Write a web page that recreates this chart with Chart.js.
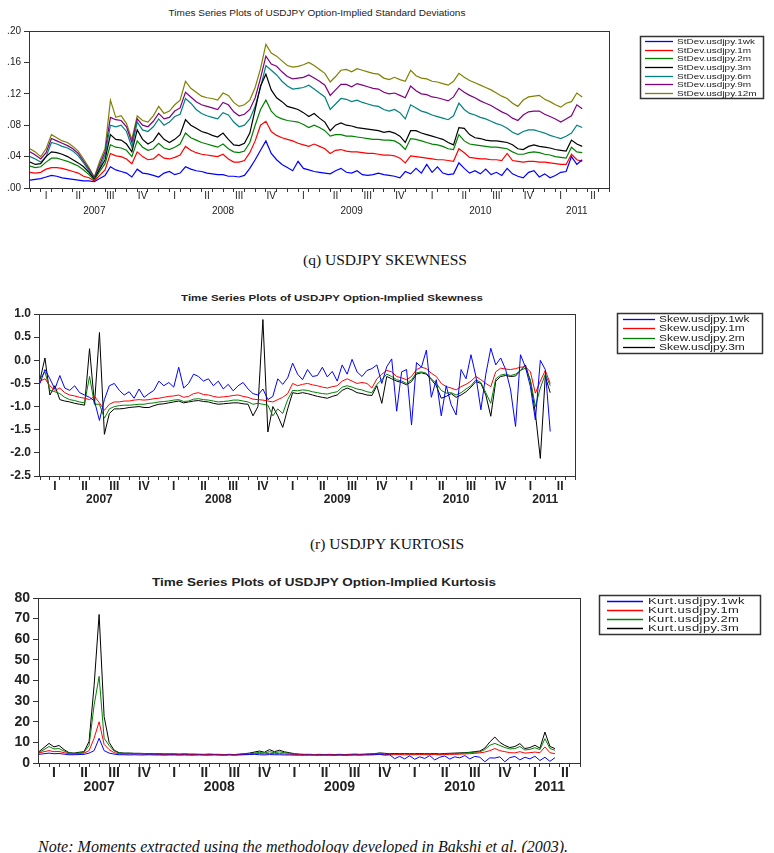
<!DOCTYPE html>
<html lang="en">
<head>
<meta charset="UTF-8" />
<title>USDJPY option-implied moments</title>
<script src="https://cdn.jsdelivr.net/npm/chart.js@4.4.1/dist/chart.umd.min.js"></script>
<style>
  body { margin: 0; background: #fff; }
  .page { position: relative; width: 774px; height: 853px; overflow: hidden; font-family: "Liberation Sans", Arial, sans-serif; }
  .page canvas { position: absolute; left: 0; }
  .ttl { position: absolute; width: 600px; text-align: center; color: #222; white-space: nowrap; line-height: 14px; transform: scaleY(0.82); }
  .cap { position: absolute; width: 400px; text-align: center; font: 15.5px/16px "Liberation Serif", serif; color: #111; }
  .note { position: absolute; left: 38px; top: 839px; font: italic 16px/16px "Liberation Serif", serif; color: #111; white-space: nowrap; }
</style>
</head>
<body>
<div class="page">
  <div class="ttl" style="left:17px; top:7px; font-size:10px;">Times Series Plots of USDJPY Option-Implied Standard Deviations</div>
  <canvas id="sdChart" width="774" height="225" style="top:0"></canvas>

  <div class="cap" style="left:185px; top:252px;">(q) USDJPY SKEWNESS</div>
  <div class="ttl" style="left:32px; top:291px; font-size:11.5px; font-weight:bold;">Time Series Plots of USDJPY Option-Implied Skewness</div>
  <canvas id="skewChart" width="774" height="230" style="top:280px"></canvas>

  <div class="cap" style="left:187px; top:536px;">(r) USDJPY KURTOSIS</div>
  <div class="ttl" style="left:24px; top:576px; font-size:13.5px; font-weight:bold;">Time Series Plots of USDJPY Option-Implied Kurtosis</div>
  <canvas id="kurtChart" width="774" height="230" style="top:570px"></canvas>

  <div class="note">Note: Moments extracted using the methodology developed in Bakshi et al. (2003).</div>
</div>

<script>
  // every series at half-month steps starting Jan 2007
  const step = 0.5;
  const quarterNames = ["I", "II", "III", "IV"];
  const yearNames = ["2007", "2008", "2009", "2010", "2011"];
  const yearCentres = [6, 18, 30, 42, 51]; // months since Jan 2007

  const sdNames = ["StDev.usdjpy.1wk", "StDev.usdjpy.1m", "StDev.usdjpy.2m", "StDev.usdjpy.3m", "StDev.usdjpy.6m", "StDev.usdjpy.9m", "StDev.usdjpy.12m"];
  const sd1wk = [
    .010,.011,.012,.014,.016,.015,.013,.012,.011,.010,.009,.009,
    .008,.012,.016,.027,.023,.021,.019,.014,.024,.019,.018,.016,
    .014,.019,.021,.017,.019,.027,.024,.022,.021,.019,.018,.017,
    .017,.015,.015,.014,.016,.025,.036,.048,.060,.044,.036,.030,
    .026,.022,.034,.025,.023,.021,.020,.019,.018,.022,.025,.020,
    .019,.022,.017,.016,.017,.019,.017,.016,.015,.013,.021,.018,
    .025,.019,.030,.020,.027,.019,.017,.018,.032,.025,.019,.022,
    .018,.024,.017,.020,.016,.025,.018,.015,.013,.020,.022,.014,
    .018,.013,.016,.020,.021,.040,.030,.036];
  const sd1m = [
    .020,.019,.020,.024,.026,.026,.025,.023,.021,.019,.015,.013,
    .009,.016,.023,.044,.041,.040,.037,.031,.046,.040,.036,.037,
    .043,.038,.037,.039,.042,.053,.048,.045,.043,.042,.041,.040,
    .043,.037,.033,.033,.035,.045,.060,.080,.085,.072,.067,.064,
    .062,.060,.057,.055,.053,.056,.053,.050,.044,.048,.049,.047,
    .046,.046,.045,.044,.044,.043,.042,.042,.041,.038,.032,.041,
    .040,.039,.038,.037,.036,.036,.035,.034,.050,.045,.039,.038,
    .037,.037,.036,.036,.035,.044,.035,.034,.033,.034,.034,.033,
    .033,.032,.031,.030,.030,.043,.036,.034];
  const sd2m = [
    .028,.026,.027,.033,.038,.038,.036,.034,.031,.028,.023,.017,
    .010,.021,.031,.055,.052,.051,.048,.040,.060,.052,.048,.050,
    .057,.051,.049,.052,.056,.070,.064,.061,.058,.056,.054,.052,
    .056,.050,.046,.045,.047,.058,.080,.100,.112,.098,.091,.088,
    .086,.085,.084,.081,.077,.080,.077,.073,.066,.068,.068,.066,
    .066,.065,.064,.063,.062,.062,.061,.061,.060,.056,.049,.063,
    .062,.060,.058,.056,.055,.053,.050,.049,.068,.060,.056,.055,
    .054,.053,.052,.052,.051,.050,.046,.043,.043,.045,.046,.045,
    .043,.042,.040,.039,.038,.052,.046,.045];
  const sd3m = [
    .033,.030,.031,.040,.046,.045,.043,.040,.036,.032,.027,.020,
    .011,.024,.036,.068,.062,.061,.056,.046,.074,.062,.056,.060,
    .070,.062,.058,.062,.068,.087,.080,.076,.072,.070,.067,.065,
    .070,.062,.055,.054,.057,.070,.100,.130,.145,.125,.115,.110,
    .104,.102,.100,.096,.091,.095,.089,.084,.073,.080,.083,.080,
    .079,.077,.076,.075,.074,.073,.071,.072,.070,.066,.058,.073,
    .073,.070,.068,.066,.064,.062,.058,.055,.077,.076,.068,.064,
    .063,.061,.060,.060,.059,.058,.055,.050,.049,.053,.055,.053,
    .052,.051,.049,.048,.047,.061,.056,.053];
  const sd6m = [
    .040,.037,.033,.040,.058,.056,.053,.051,.047,.041,.032,.022,
    .012,.026,.042,.080,.078,.080,.072,.052,.084,.074,.072,.078,
    .088,.080,.084,.091,.094,.114,.108,.100,.095,.092,.090,.088,
    .096,.093,.084,.078,.080,.088,.104,.128,.156,.150,.144,.136,
    .130,.126,.127,.128,.131,.126,.121,.116,.100,.107,.114,.113,
    .110,.112,.109,.107,.105,.104,.100,.098,.100,.096,.088,.106,
    .102,.098,.096,.093,.091,.089,.087,.092,.108,.100,.095,.093,
    .090,.088,.085,.082,.080,.076,.071,.068,.072,.074,.074,.072,
    .070,.067,.065,.063,.066,.070,.080,.077];
  const sd9m = [
    .046,.042,.037,.045,.063,.060,.057,.054,.050,.044,.034,.024,
    .013,.030,.046,.090,.087,.086,.078,.058,.088,.080,.078,.085,
    .095,.088,.090,.098,.102,.122,.116,.110,.106,.104,.102,.100,
    .109,.106,.097,.092,.094,.100,.115,.140,.168,.158,.155,.148,
    .142,.139,.140,.141,.144,.140,.136,.131,.118,.125,.132,.132,
    .129,.133,.131,.129,.127,.126,.122,.120,.121,.118,.115,.130,
    .124,.120,.119,.116,.115,.113,.111,.116,.127,.122,.118,.115,
    .111,.108,.105,.101,.097,.094,.089,.086,.093,.097,.098,.098,
    .094,.091,.088,.084,.088,.092,.106,.101];
  const sd12m = [
    .050,.046,.040,.050,.068,.064,.060,.058,.053,.047,.037,.026,
    .014,.034,.050,.112,.090,.092,.082,.062,.092,.086,.084,.092,
    .104,.095,.098,.106,.112,.136,.127,.122,.117,.115,.114,.112,
    .121,.118,.109,.104,.106,.112,.128,.152,.183,.172,.168,.162,
    .156,.154,.155,.157,.160,.156,.151,.146,.135,.142,.150,.151,
    .148,.152,.150,.148,.146,.145,.140,.138,.141,.138,.136,.150,
    .143,.140,.139,.136,.135,.133,.131,.136,.146,.141,.137,.134,
    .131,.128,.125,.121,.117,.114,.108,.104,.112,.116,.117,.118,
    .113,.110,.106,.103,.108,.110,.121,.116];

  const skewNames = ["Skew.usdjpy.1wk", "Skew.usdjpy.1m", "Skew.usdjpy.2m", "Skew.usdjpy.3m"];
  const skew1wk = [
    -0.50,-0.20,-0.40,-0.62,-0.33,-0.60,-0.65,-0.55,-0.70,-0.75,-0.80,-0.88,
    -1.30,-0.85,-0.55,-0.50,-0.65,-0.75,-0.68,-0.82,-0.62,-0.80,-0.72,-0.65,
    -0.45,-0.55,-0.48,-0.58,-0.15,-0.60,-0.50,-0.30,-0.35,-0.45,-0.40,-0.55,
    -0.45,-0.62,-0.52,-0.66,-0.55,-0.48,-0.62,-0.72,-0.75,-0.62,-0.85,-0.78,
    -0.40,-0.52,-0.38,-0.06,-0.30,-0.42,-0.20,-0.35,-0.33,-0.15,-0.36,-0.24,
    -0.45,-0.10,-0.30,0.02,-0.25,-0.35,-0.22,-0.18,-0.10,-0.50,-0.14,0.03,
    -1.10,-0.25,-0.20,-1.40,-0.05,-0.15,0.22,-0.80,-0.42,-1.20,-0.55,-0.96,
    -1.18,-0.20,-0.40,0.12,-0.35,-1.07,-0.30,0.26,-0.10,0.05,-0.20,-0.64,
    -1.43,0.12,-0.15,-0.57,-1.29,0.00,-0.20,-1.54];
  const skew1m = [
    -0.45,-0.40,-0.55,-0.65,-0.60,-0.70,-0.75,-0.77,-0.80,-0.82,-0.85,-0.78,
    -0.92,-1.08,-0.95,-0.90,-0.90,-0.88,-0.88,-0.86,-0.85,-0.86,-0.85,-0.83,
    -0.82,-0.80,-0.78,-0.77,-0.75,-0.80,-0.78,-0.72,-0.70,-0.74,-0.75,-0.78,
    -0.80,-0.79,-0.78,-0.76,-0.75,-0.78,-0.80,-0.84,-0.85,-0.86,-0.88,-0.90,
    -0.85,-0.80,-0.72,-0.50,-0.55,-0.52,-0.50,-0.53,-0.55,-0.58,-0.60,-0.57,
    -0.55,-0.45,-0.40,-0.45,-0.50,-0.48,-0.50,-0.60,-0.40,-0.30,-0.22,-0.25,
    -0.35,-0.38,-0.42,-0.35,-0.20,-0.15,-0.18,-0.28,-0.35,-0.50,-0.57,-0.60,
    -0.64,-0.57,-0.52,-0.45,-0.35,-0.42,-0.50,-0.57,-0.25,-0.17,-0.19,-0.20,
    -0.18,-0.15,-0.14,-0.25,-0.71,-0.45,-0.22,-0.50];
  const skew2m = [
    -0.40,-0.25,-0.65,-0.68,-0.72,-0.80,-0.85,-0.87,-0.90,-0.92,-0.35,-0.95,
    -0.95,-1.25,-1.05,-1.00,-0.98,-0.97,-0.97,-0.96,-0.95,-0.95,-0.93,-0.92,
    -0.90,-0.89,-0.88,-0.86,-0.85,-0.89,-0.88,-0.84,-0.83,-0.85,-0.86,-0.88,
    -0.90,-0.89,-0.88,-0.86,-0.86,-0.88,-0.90,-0.95,-0.93,-0.95,-0.97,-1.20,
    -1.05,-1.15,-0.85,-0.65,-0.66,-0.64,-0.65,-0.68,-0.70,-0.72,-0.73,-0.70,
    -0.68,-0.58,-0.55,-0.58,-0.62,-0.64,-0.68,-0.70,-0.52,-0.42,-0.30,-0.35,
    -0.42,-0.45,-0.50,-0.42,-0.27,-0.25,-0.28,-0.40,-0.50,-0.65,-0.71,-0.70,
    -0.75,-0.70,-0.62,-0.55,-0.42,-0.48,-0.70,-0.93,-0.40,-0.32,-0.30,-0.33,
    -0.30,-0.22,-0.17,-0.42,-1.00,-0.60,-0.30,-0.55];
  const skew3m = [
    -0.42,0.05,-0.75,-0.55,-0.85,-0.88,-0.90,-0.93,-0.95,-0.97,0.25,-0.95,
    0.60,-1.60,-1.15,-1.05,-1.05,-1.04,-1.02,-1.01,-1.00,-1.02,-1.02,-0.98,
    -0.95,-0.94,-0.92,-0.90,-0.88,-0.92,-0.90,-0.88,-0.87,-0.89,-0.90,-0.93,
    -0.95,-0.94,-0.93,-0.92,-0.92,-0.94,-0.95,-1.20,-1.00,0.88,-1.55,-1.00,
    -1.20,-1.45,-1.05,-0.70,-0.72,-0.70,-0.72,-0.75,-0.78,-0.80,-0.82,-0.78,
    -0.75,-0.65,-0.60,-0.64,-0.70,-0.72,-0.75,-0.76,-0.55,-0.93,-0.35,-0.40,
    -0.45,-0.48,-0.53,-0.46,-0.30,-0.27,-0.30,-0.42,-0.55,-0.82,-0.78,-0.72,
    -0.80,-0.75,-0.68,-0.58,-0.46,-0.50,-0.75,-1.21,-0.45,-0.35,-0.33,-0.35,
    -0.34,-0.22,-0.10,-0.46,-1.14,-2.12,-0.35,-0.70];

  const kurtNames = ["Kurt.usdjpy.1wk", "Kurt.usdjpy.1m", "Kurt.usdjpy.2m", "Kurt.usdjpy.3m"];
  const kurt1wk = [
    4.2,4.5,4.8,4.5,4.6,4.3,4.0,4.0,4.1,4.2,4.8,6.0,
    12,6.0,4.8,4.3,4.0,4.0,3.9,4.0,3.9,3.9,4.0,3.9,
    3.9,3.8,3.9,3.9,3.8,3.9,3.8,3.8,3.9,3.8,3.8,3.9,
    3.8,3.8,3.9,3.8,3.9,4.0,4.1,4.2,4.0,3.9,4.1,4.0,
    4.0,3.9,3.9,3.8,3.8,3.8,3.9,3.8,3.8,3.9,3.8,3.8,
    3.9,3.8,3.8,3.9,3.8,3.9,3.9,4.0,4.2,3.8,4.0,2.1,
    3.2,2.0,3.5,1.8,3.0,2.2,3.6,1.5,2.8,3.4,1.9,3.0,
    2.5,3.6,2.0,3.2,2.8,0.6,2.5,2.4,3.0,0.6,2.6,3.2,
    1.5,2.8,2.0,3.3,1.2,2.8,0.8,2.6];
  const kurt1m = [
    4.8,5.5,6.0,5.5,5.6,5.0,4.5,4.4,4.6,4.8,6.0,12,
    20,9.0,6.5,5.0,4.5,4.4,4.4,4.4,4.4,4.3,4.3,4.3,
    4.2,4.2,4.2,4.2,4.1,4.2,4.1,4.1,4.2,4.1,4.1,4.1,
    4.1,4.0,4.1,4.0,4.1,4.2,4.3,4.5,4.6,4.4,4.7,4.5,
    4.6,4.4,4.3,4.2,4.1,4.1,4.0,4.1,4.0,4.0,4.1,4.0,
    4.0,4.0,4.1,4.0,4.1,4.1,4.2,4.2,4.3,4.1,4.0,4.0,
    4.1,3.9,4.0,4.0,4.1,4.0,4.0,4.1,3.9,4.1,4.2,4.2,
    4.3,4.4,4.5,4.7,4.9,5.3,6.0,7.0,6.0,5.5,5.0,4.9,
    5.5,4.8,5.0,5.3,5.0,7.8,5.0,4.5];
  const kurt2m = [
    5.0,6.5,8.0,6.8,7.0,5.8,4.8,4.6,4.9,5.2,8.5,28,
    42,12,8.5,5.8,4.8,4.7,4.7,4.6,4.6,4.5,4.5,4.4,
    4.4,4.3,4.3,4.3,4.2,4.3,4.2,4.2,4.1,4.1,4.2,4.1,
    4.1,4.0,4.1,4.0,4.2,4.3,4.5,4.8,5.1,4.8,5.5,5.0,
    5.4,5.0,4.7,4.3,4.1,4.0,4.0,4.0,4.0,3.9,4.0,3.9,
    4.0,3.9,4.0,4.1,4.0,4.1,4.2,4.3,4.5,4.4,4.3,4.3,
    4.3,4.4,4.3,4.3,4.4,4.3,4.3,4.4,4.2,4.4,4.5,4.6,
    4.7,4.8,5.0,5.2,5.4,6.5,8.6,9.5,8.5,7.5,6.8,7.0,
    8.0,6.3,6.6,7.4,6.5,11.8,7.0,6.2];
  const kurt3m = [
    5.5,7.5,9.5,7.8,8.5,6.5,5.0,4.8,5.2,5.5,10.5,37.5,
    72,22.5,10.0,6.2,5.0,4.8,4.8,4.7,4.7,4.6,4.6,4.5,
    4.5,4.4,4.4,4.4,4.3,4.4,4.3,4.3,4.2,4.2,4.3,4.2,
    4.2,4.1,4.2,4.1,4.3,4.5,4.8,5.3,5.8,5.2,6.5,5.5,
    6.2,5.4,5.0,4.5,4.3,4.2,4.2,4.1,4.2,4.1,4.2,4.1,
    4.2,4.1,4.2,4.3,4.2,4.3,4.4,4.5,4.9,4.7,4.5,4.6,
    4.5,4.6,4.5,4.5,4.6,4.5,4.5,4.6,4.4,4.6,4.7,4.8,
    4.9,5.0,5.2,5.5,5.8,7.2,10.2,12.6,10.0,8.5,7.5,8.0,
    9.4,7.0,7.5,8.6,7.2,15.0,8.0,7.0];

  const sdColors = ["#0000ff", "#ff0000", "#008000", "#000000", "#008080", "#800080", "#808000"];
  const momColors = ["#0000ff", "#ff0000", "#008000", "#000000"];

  Chart.defaults.font.family = '"Liberation Sans", Arial, sans-serif';
  Chart.defaults.color = "#222";

  // box around the plot area
  const frame = {
    id: "frame",
    afterDatasetsDraw(chart) {
      const { ctx, chartArea: a } = chart;
      ctx.save();
      ctx.strokeStyle = "#333";
      ctx.lineWidth = 1;
      ctx.strokeRect(a.left - 0.5, a.top + 0.5, a.right - a.left + 1, a.bottom - a.top);
      ctx.restore();
    },
  };

  // EViews style legend: framed box to the right of the plot, squat lettering
  const boxLegend = {
    id: "boxLegend",
    afterDraw(chart, args, o) {
      const ctx = chart.ctx;
      const sets = chart.data.datasets;
      const rowH = (o.h - 2) / sets.length;
      ctx.save();
      ctx.strokeStyle = "#333";
      ctx.lineWidth = 1.5;
      ctx.strokeRect(o.x + 0.5, o.y + 0.5, o.w, o.h);
      ctx.font = o.font;
      ctx.textBaseline = "middle";
      ctx.fillStyle = "#222";
      if ("letterSpacing" in ctx) ctx.letterSpacing = o.spacing;
      sets.forEach((ds, i) => {
        const y = Math.round(o.y + 1 + rowH * (i + 0.5)) + 0.5;
        ctx.strokeStyle = ds.borderColor;
        ctx.lineWidth = 1.3;
        ctx.beginPath();
        ctx.moveTo(o.x + o.l0, y);
        ctx.lineTo(o.x + o.l1, y);
        ctx.stroke();
        ctx.save();
        ctx.translate(o.x + o.tx, y);
        ctx.scale(1, o.sy);
        ctx.fillText(ds.label, 0, 0);
        ctx.restore();
      });
      ctx.restore();
    },
  };

  function quarterLabel(v) {
    if (Number.isInteger(v)) {
      const k = yearCentres.indexOf(v);
      return k < 0 ? "" : ["", yearNames[k]];
    }
    return v % 3 === 1.5 ? quarterNames[((v - 1.5) / 3) % 4] : "";
  }

  function makeChart(id, names, series, colors, c) {
    const datasets = series.map((vals, i) => ({
      label: names[i],
      data: vals.map((v, j) => ({ x: j * step, y: v })),
      borderColor: colors[i],
      borderWidth: c.lw,
      pointRadius: 0,
      tension: 0,
      fill: false,
    }));
    return new Chart(document.getElementById(id), {
      type: "line",
      data: { datasets },
      options: {
        responsive: false,
        animation: false,
        layout: { padding: { top: c.top, right: c.right, left: 0, bottom: 0 } },
        plugins: { legend: { display: false }, tooltip: { enabled: false }, boxLegend: c.legend },
        scales: {
          x: {
            type: "linear",
            min: 0,
            max: 54,
            border: { display: false },
            grid: {
              drawOnChartArea: false,
              tickLength: 4,
              tickColor: (t) => (t.tick && !Number.isInteger(t.tick.value) ? "rgba(0,0,0,0)" : "#333"),
            },
            ticks: {
              stepSize: 0.5,
              autoSkip: false,
              maxRotation: 0,
              minRotation: 0,
              padding: c.xPad,
              font: c.xFont,
              callback: quarterLabel,
            },
            afterFit: (s) => { s.height = c.xh; },
          },
          y: {
            min: c.yMin,
            max: c.yMax,
            border: { display: false },
            grid: { drawOnChartArea: false, tickLength: 6, tickColor: "#333" },
            ticks: { stepSize: c.yStep, padding: 3, font: c.yFont, callback: c.fmt },
            afterFit: (s) => { s.width = c.left; },
          },
        },
      },
      plugins: [frame, boxLegend],
    });
  }

  makeChart("sdChart", sdNames, [sd1wk, sd1m, sd2m, sd3m, sd6m, sd9m, sd12m], sdColors, {
    top: 31, right: 165, left: 30, xh: 37, lw: 1.2,
    xPad: -3, xFont: { size: 10, lineHeight: "15px" },
    yMin: 0, yMax: 0.2, yStep: 0.04, yFont: { size: 10 },
    fmt: (v) => v.toFixed(2).replace("0.", "."),
    legend: { x: 640, y: 36, w: 123, h: 62, l0: 5, l1: 33, tx: 37, font: '10px "Liberation Sans"', spacing: "0px", sy: 0.8 },
  });

  makeChart("skewChart", skewNames, [skew1wk, skew1m, skew2m, skew3m], momColors, {
    top: 34, right: 199, left: 40, xh: 34, lw: 1,
    xPad: 0.5, xFont: { size: 12, weight: "bold", lineHeight: "13px" },
    yMin: -2.5, yMax: 1.0, yStep: 0.5, yFont: { size: 12, weight: "bold" },
    fmt: (v) => v.toFixed(1),
    legend: { x: 617, y: 33, w: 145, h: 40, l0: 6, l1: 38, tx: 42, font: '12px "Liberation Sans"', spacing: "0px", sy: 0.78 },
  });

  makeChart("kurtChart", kurtNames, [kurt1wk, kurt1m, kurt2m, kurt3m], momColors, {
    top: 28, right: 194, left: 39, xh: 37, lw: 1,
    xPad: -1, xFont: { size: 14, weight: "bold", lineHeight: "14px" },
    yMin: 0, yMax: 80, yStep: 10, yFont: { size: 14, weight: "bold" },
    fmt: (v) => String(v),
    legend: { x: 599, y: 25, w: 161, h: 39, l0: 8, l1: 44, tx: 49, font: '13px "Liberation Sans"', spacing: "0.4px", sy: 0.72 },
  });
</script>
</body>
</html>
